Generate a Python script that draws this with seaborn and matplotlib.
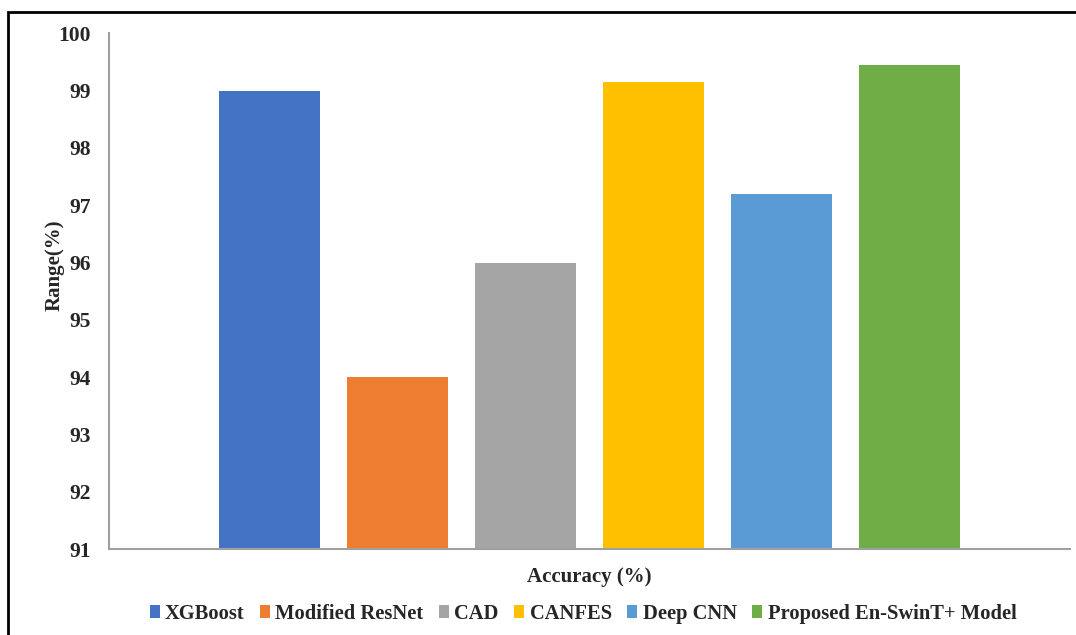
import matplotlib
matplotlib.use("Agg")
import matplotlib.pyplot as plt
import matplotlib.patches as mpatches
import seaborn as sns
import pandas as pd

models = ["XGBoost", "Modified ResNet", "CAD", "CANFES", "Deep CNN",
          "Proposed En-SwinT+ Model"]
accuracy = [99.0, 94.0, 96.0, 99.15, 97.2, 99.45]
metric = "Accuracy (%)"
y_ticks = [91, 92, 93, 94, 95, 96, 97, 98, 99, 100]
colors = ["#4472C4", "#ED7D31", "#A5A5A5", "#FFC000", "#5B9BD5", "#70AD47"]

df = pd.DataFrame({"metric": [metric] * len(models),
                   "model": models,
                   "value": accuracy})

sns.set_theme(style="white")
plt.rcParams["font.family"] = ["Liberation Serif", "DejaVu Serif"]
plt.rcParams["font.weight"] = "bold"

W, H = 1076, 635
fig = plt.figure(figsize=(W / 100, H / 100), dpi=100)
ax = fig.add_axes([109 / W, (H - 549.3) / H, (1070 - 109) / W, (549.3 - 33.3) / H])

sns.barplot(data=df, x="metric", y="value", hue="model", palette=colors,
            width=0.8, gap=0.21, saturation=1, linewidth=0, ax=ax, legend=False)

ax.set_ylim(91, 100)
ax.set_xlim(-0.5, 0.5)
ax.set_yticks(y_ticks)
ax.set_yticklabels([str(t) for t in y_ticks], fontsize=15.5, fontweight="bold")
ax.tick_params(axis="y", length=0, pad=13)
ax.set_xticks([])
ax.set_xlabel(metric, fontsize=15, fontweight="bold", labelpad=13)
ax.set_ylabel("Range(%)", fontsize=15, fontweight="bold")
ax.yaxis.set_label_coords(-0.046, 0.55)

for side in ["top", "right"]:
    ax.spines[side].set_visible(False)
for side in ["left", "bottom"]:
    ax.spines[side].set_color("#A0A0A0")
    ax.spines[side].set_linewidth(1.5)

handles = [mpatches.Patch(facecolor=c, edgecolor="none") for c in colors]
fig.legend(handles, models, loc="center", ncol=6,
           bbox_to_anchor=(583 / W, (H - 614) / H),
           frameon=False, handlelength=0.5, handleheight=0.6,
           handletextpad=0.25, columnspacing=0.75,
           prop={"size": 14.8, "weight": "bold"})

# outer frame around the figure
frame = mpatches.Rectangle((8 / W, -0.1), 1.2, (H - 12) / H + 0.1,
                           transform=fig.transFigure, fill=False,
                           edgecolor="black", linewidth=2, clip_on=False)
fig.patches.append(frame)

fig.savefig("out.png", dpi=100)
